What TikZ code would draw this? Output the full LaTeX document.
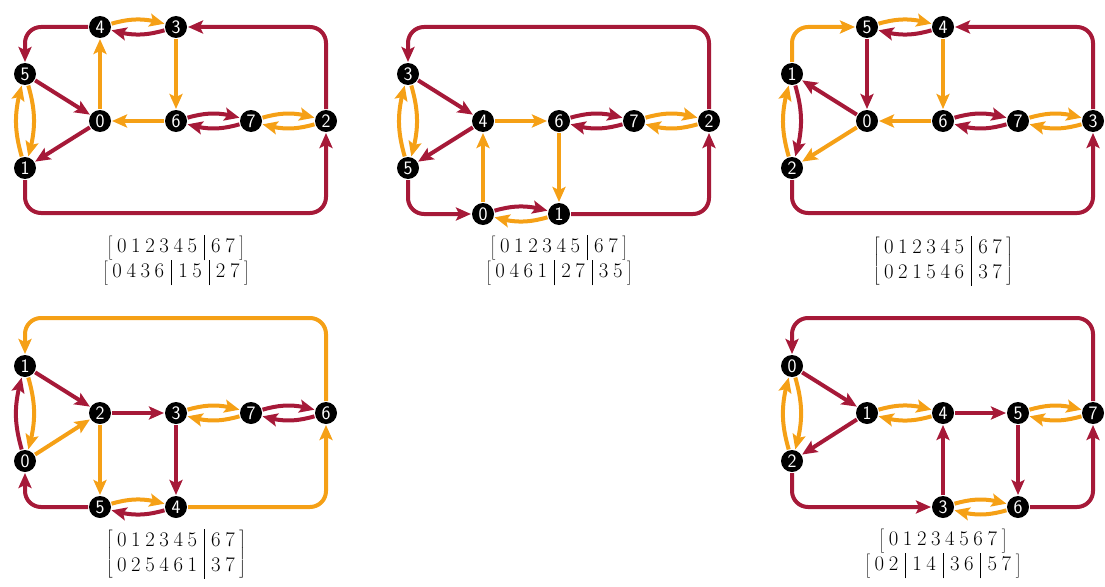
\documentclass[tikz,border=0pt]{standalone}
\usetikzlibrary{arrows.meta,bending}
\definecolor{cred}{RGB}{166,25,56}
\definecolor{corg}{RGB}{245,160,22}
\tikzset{
  vx/.style={circle,fill=black,text=white,inner sep=0pt,minimum size=22pt,outer sep=1pt,
    font=\sffamily\fontsize{19}{19}\selectfont},
  ed/.style={line width=4pt,-{Stealth[length=15pt,width=13pt,inset=3pt]}},
  er/.style={ed,draw=cred},
  eo/.style={ed,draw=corg},
  pr/.style={bend left=16},
  lp/.style={rounded corners=16pt},
  lab/.style={anchor=base,inner sep=0pt,font=\fontsize{20.5}{25}\selectfont\setlength\arraycolsep{7pt}}
}
\begin{document}
\begin{tikzpicture}[x=1pt,y=-1pt]
\useasboundingbox (0,0) rectangle (1105,586);
% ---------- panel 1 ----------
\node[vx] (A4) at (100,27) {4};
\node[vx] (A3) at (176,27) {3};
\node[vx] (A5) at (25,74) {5};
\node[vx] (A0) at (100,121) {0};
\node[vx] (A6) at (176,121) {6};
\node[vx] (A7) at (251,121) {7};
\node[vx] (A2) at (326,121) {2};
\node[vx] (A1) at (25,168) {1};
\coordinate (Ab) at (176,213);
\draw[eo,pr] (A4) to (A3);
\draw[er,pr] (A3) to (A4);
\draw[eo] (A3) -- (A6);
\draw[eo] (A0) -- (A4);
\draw[eo] (A6) -- (A0);
\draw[er] (A5) -- (A0);
\draw[er] (A0) -- (A1);
\draw[er,pr] (A6) to (A7);
\draw[er,pr] (A7) to (A6);
\draw[eo,pr] (A7) to (A2);
\draw[eo,pr] (A2) to (A7);
\draw[eo,pr] (A1) to (A5);
\draw[eo,pr] (A5) to (A1);
\draw[er,lp] (A4) -| (A5);
\draw[er,lp] (A2) |- (A3);
\draw[er,lp] (A1) |- (Ab) -| (A2);
\node[lab] (LA1) at (176,253) {$\left[\begin{array}{@{\:}c|c@{\:}}0\:1\:2\:3\:4\:5 & 6\:7\end{array}\right]$};
\node[lab] (LA2) at (176,278) {$\left[\begin{array}{@{\:}c|c|c@{\:}}0\:4\:3\:6 & 1\:5 & 2\:7\end{array}\right]$};
% ---------- panel 2 ----------
\node[vx] (B3) at (408,74) {3};
\node[vx] (B5) at (408,168) {5};
\node[vx] (B4) at (483,121) {4};
\node[vx] (B6) at (559,121) {6};
\node[vx] (B7) at (634,121) {7};
\node[vx] (B2) at (709,121) {2};
\node[vx] (B0) at (483,214) {0};
\node[vx] (B1) at (559,214) {1};
\coordinate (Bt) at (559,27);
\draw[er,lp] (B2) |- (Bt) -| (B3);
\draw[er] (B3) -- (B4);
\draw[er] (B4) -- (B5);
\draw[eo,pr] (B5) to (B3);
\draw[eo,pr] (B3) to (B5);
\draw[eo] (B4) -- (B6);
\draw[er,pr] (B6) to (B7);
\draw[er,pr] (B7) to (B6);
\draw[eo,pr] (B7) to (B2);
\draw[eo,pr] (B2) to (B7);
\draw[eo] (B6) -- (B1);
\draw[eo] (B0) -- (B4);
\draw[er,lp] (B5) |- (B0);
\draw[er,pr] (B0) to (B1);
\draw[eo,pr] (B1) to (B0);
\draw[er,lp] (B1) -| (B2);
\node[lab] (LB1) at (559,253) {$\left[\begin{array}{@{\:}c|c@{\:}}0\:1\:2\:3\:4\:5 & 6\:7\end{array}\right]$};
\node[lab] (LB2) at (559,278) {$\left[\begin{array}{@{\:}c|c|c@{\:}}0\:4\:6\:1 & 2\:7 & 3\:5\end{array}\right]$};
% ---------- panel 3 ----------
\node[vx] (C5) at (867,27) {5};
\node[vx] (C4) at (943,27) {4};
\node[vx] (C1) at (792,74) {1};
\node[vx] (C0) at (867,121) {0};
\node[vx] (C6) at (943,121) {6};
\node[vx] (C7) at (1018,121) {7};
\node[vx] (C3) at (1093,121) {3};
\node[vx] (C2) at (792,168) {2};
\coordinate (Cb) at (943,213);
\draw[eo,lp] (C1) |- (C5);
\draw[eo,pr] (C5) to (C4);
\draw[er,pr] (C4) to (C5);
\draw[er,lp] (C3) |- (C4);
\draw[er] (C5) -- (C0);
\draw[eo] (C4) -- (C6);
\draw[er] (C0) -- (C1);
\draw[eo] (C0) -- (C2);
\draw[eo] (C6) -- (C0);
\draw[er,pr] (C6) to (C7);
\draw[er,pr] (C7) to (C6);
\draw[eo,pr] (C7) to (C3);
\draw[eo,pr] (C3) to (C7);
\draw[eo,pr] (C2) to (C1);
\draw[er,pr] (C1) to (C2);
\draw[er,lp] (C2) |- (Cb) -| (C3);
\node[lab] (LC) at (943,266) {$\left[\begin{array}{@{\:}c|c@{\:}}0\:1\:2\:3\:4\:5 & 6\:7\\ 0\:2\:1\:5\:4\:6 & 3\:7\end{array}\right]$};
% ---------- panel 4 ----------
\node[vx] (D1) at (25,366) {1};
\node[vx] (D2) at (100,413) {2};
\node[vx] (D3) at (176,413) {3};
\node[vx] (D7) at (251,413) {7};
\node[vx] (D6) at (326,413) {6};
\node[vx] (D0) at (25,461) {0};
\node[vx] (D5) at (100,507) {5};
\node[vx] (D4) at (176,507) {4};
\coordinate (Dt) at (176,318);
\draw[eo,lp] (D6) |- (Dt) -| (D1);
\draw[er] (D1) -- (D2);
\draw[eo] (D0) -- (D2);
\draw[er,pr] (D0) to (D1);
\draw[eo,pr] (D1) to (D0);
\draw[er] (D2) -- (D3);
\draw[eo] (D2) -- (D5);
\draw[er] (D3) -- (D4);
\draw[eo,pr] (D3) to (D7);
\draw[eo,pr] (D7) to (D3);
\draw[er,pr] (D7) to (D6);
\draw[er,pr] (D6) to (D7);
\draw[eo,pr] (D5) to (D4);
\draw[er,pr] (D4) to (D5);
\draw[er,lp] (D5) -| (D0);
\draw[eo,lp] (D4) -| (D6);
\node[lab] (LD) at (176,559) {$\left[\begin{array}{@{\:}c|c@{\:}}0\:1\:2\:3\:4\:5 & 6\:7\\ 0\:2\:5\:4\:6\:1 & 3\:7\end{array}\right]$};
% ---------- panel 5 ----------
\node[vx] (E0) at (792,366) {0};
\node[vx] (E1) at (867,413) {1};
\node[vx] (E4) at (943,413) {4};
\node[vx] (E5) at (1018,413) {5};
\node[vx] (E7) at (1093,413) {7};
\node[vx] (E2) at (792,461) {2};
\node[vx] (E3) at (943,507) {3};
\node[vx] (E6) at (1018,507) {6};
\coordinate (Et) at (943,318);
\draw[er,lp] (E7) |- (Et) -| (E0);
\draw[er] (E0) -- (E1);
\draw[er] (E1) -- (E2);
\draw[eo,pr] (E2) to (E0);
\draw[eo,pr] (E0) to (E2);
\draw[eo,pr] (E1) to (E4);
\draw[eo,pr] (E4) to (E1);
\draw[er] (E4) -- (E5);
\draw[eo,pr] (E5) to (E7);
\draw[eo,pr] (E7) to (E5);
\draw[er] (E3) -- (E4);
\draw[er] (E5) -- (E6);
\draw[eo,pr] (E3) to (E6);
\draw[eo,pr] (E6) to (E3);
\draw[er,lp] (E2) |- (E3);
\draw[er,lp] (E6) -| (E7);
\node[lab] (LE1) at (943,546) {$\left[\begin{array}{@{\:}c@{\:}}0\:1\:2\:3\:4\:5\:6\:7\end{array}\right]$};
\node[lab] (LE2) at (943,571) {$\left[\begin{array}{@{\:}c|c|c|c@{\:}}0\:2 & 1\:4 & 3\:6 & 5\:7\end{array}\right]$};
\end{tikzpicture}
\end{document}
